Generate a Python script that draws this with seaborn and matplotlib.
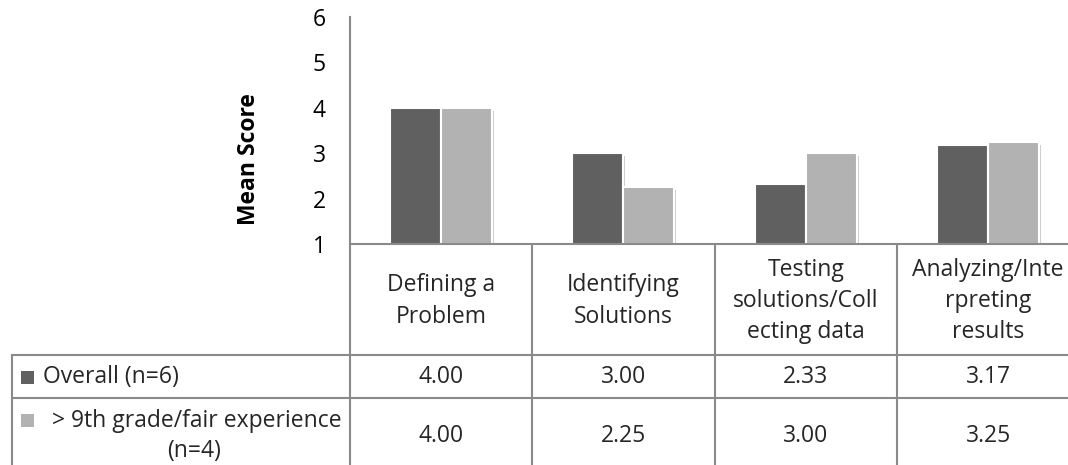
import matplotlib
matplotlib.use("Agg")
import matplotlib.pyplot as plt
import matplotlib.patheffects as pe
from matplotlib.patches import Rectangle
import seaborn as sns
import pandas as pd

# ---- data ----
categories = ["Defining a\nProblem", "Identifying\nSolutions",
              "Testing\nsolutions/Coll\necting data", "Analyzing/Inte\nrpreting\nresults"]
series_names = ["Overall (n=6)", " > 9th grade/fair experience\n(n=4)"]
overall = [4.00, 3.00, 2.33, 3.17]
subgroup = [4.00, 2.25, 3.00, 3.25]
yticks = [1, 2, 3, 4, 5, 6]
colors = ["#606060", "#b2b2b2"]

df = pd.DataFrame({
    "cat": list(range(len(categories))) * 2,
    "series": [series_names[0]] * len(overall) + [series_names[1]] * len(subgroup),
    "value": overall + subgroup,
})

sns.set_theme(style="white")
plt.rcParams["font.family"] = ["Open Sans", "DejaVu Sans"]
FS = 16.5
GRAY = "#8a8a8a"

W, H = 1068, 465
fig = plt.figure(figsize=(W / 100, H / 100), dpi=100)

col_w = 182.5
left_px, top_px, bottom_px = 349.5, 17, 244
ax = fig.add_axes([left_px / W, (H - bottom_px) / H, 4 * col_w / W, (bottom_px - top_px) / H])

sns.barplot(data=df, x="cat", y="value", hue="series", palette=colors, width=0.56,
            edgecolor="white", linewidth=1.5, legend=False, ax=ax, bottom=0)
for p in ax.patches:
    p.set_path_effects([pe.SimplePatchShadow(offset=(1.5, -2), shadow_rgbFace="#000000", alpha=0.2),
                        pe.Normal()])
ax.set_ylim(1, 6)
ax.set_xlim(-0.5, len(categories) - 0.5)
ax.set_yticks(yticks)
ax.set_yticklabels([str(t) for t in yticks], fontsize=FS, color="#000000")
ax.tick_params(axis="y", length=0, pad=17)
ax.set_xticks([])
ax.set_xlabel("")
ax.set_ylabel("Mean Score", fontsize=FS, fontweight="bold", color="#000000")
ax.yaxis.set_label_coords((261 - left_px) / (4 * col_w), (bottom_px - 159) / (bottom_px - top_px))
for s in ["top", "right"]:
    ax.spines[s].set_visible(False)
for s in ["left", "bottom"]:
    ax.spines[s].set_color(GRAY)
    ax.spines[s].set_linewidth(1.5)

# ---- data table ----
axt = fig.add_axes([left_px / W, 0, 4 * col_w / W, (H - 245) / H])
axt.set_xlim(-0.5, len(categories) - 0.5)
axt.set_ylim(H, 245)
axt.axis("off")
row_left = -0.5 + (12 - left_px) / col_w
row1_top, row2_top = 355, 398
lkw = dict(color=GRAY, lw=1.5, clip_on=False)
for i in range(len(categories) + 1):
    axt.plot([i - 0.5, i - 0.5], [245, H], **lkw)
axt.plot([row_left, row_left], [row1_top, H], **lkw)
axt.plot([row_left, len(categories) - 0.5], [row1_top, row1_top], **lkw)
axt.plot([row_left, len(categories) - 0.5], [row2_top, row2_top], **lkw)

for i, c in enumerate(categories):
    axt.text(i, 301, c, ha="center", va="center", fontsize=FS, linespacing=1.4, clip_on=False)
    axt.text(i, 377, f"{overall[i]:.2f}", ha="center", va="center", fontsize=FS)
    axt.text(i, 436, f"{subgroup[i]:.2f}", ha="center", va="center", fontsize=FS)

sq = 12.5 / col_w
for y, col in [(377, colors[0]), (420, colors[1])]:
    axt.add_patch(Rectangle((-0.5 + (21 - left_px) / col_w, y - 6.5), sq, 13,
                            facecolor=col, edgecolor="none", clip_on=False))
axt.text(-0.5 + (43 - left_px) / col_w, 377, series_names[0], ha="left", va="center",
         fontsize=FS, clip_on=False)
axt.text(-0.5 + (194 - left_px) / col_w, 436, series_names[1], ha="center", va="center",
         fontsize=FS, linespacing=1.35, clip_on=False)

fig.savefig("out.png", dpi=100)
